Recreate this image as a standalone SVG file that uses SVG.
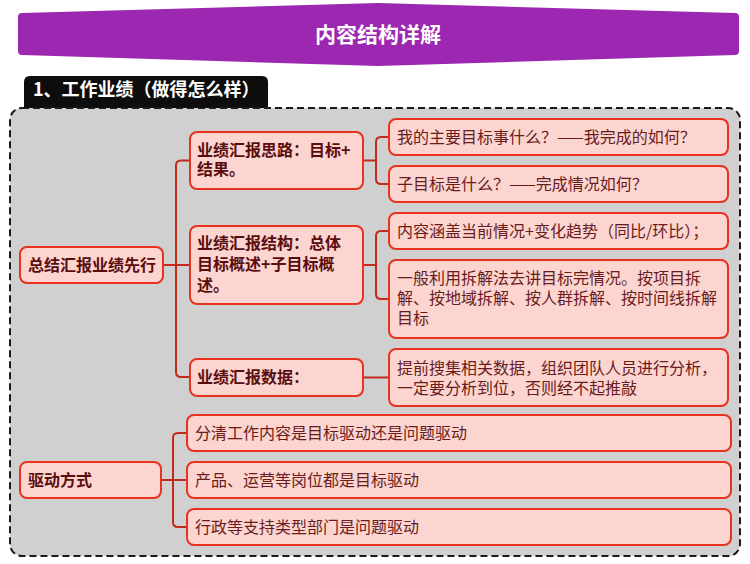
<svg xmlns="http://www.w3.org/2000/svg" width="750" height="564" viewBox="0 0 750 564">
<style>
  text { font-family: "Noto Sans CJK SC", "Noto Sans", sans-serif; }
  .node { fill: #fcd5d0; stroke: #e8311f; stroke-width: 2; }
  .b { font-size: 16px; font-weight: bold; fill: #5a0d0d; }
  .n { font-size: 16px; fill: #6a1c1c; }
  .conn path { fill: none; stroke: #c42a1c; stroke-width: 2; }
</style>
<rect width="750" height="564" fill="#ffffff"/>
<g id="title">
  <path d="M22,13 L378,3 L735,13 Q739,13 739,17 L739,51 Q739,55 735,55 L378,66 L22,55 Q18,55 18,51 L18,17 Q18,13 22,13 Z" fill="#9c27b0"/>
  <text x="378" y="42" text-anchor="middle" font-size="21" font-weight="bold" fill="#ffffff">内容结构详解</text>
</g>
<g id="tab">
  <path d="M24,110 L24,82 Q24,76 30,76 L262,76 Q268,76 268,82 L268,110 Z" fill="#0d0d0d"/>
  <text x="33" y="96" font-size="18" font-weight="bold" fill="#ffffff">1、工作业绩（做得怎么样）</text>
</g>
<g id="frame">
  <rect x="10" y="108" width="730" height="448" rx="12" fill="#d0d0d0" stroke="#1a1a1a" stroke-width="2" stroke-dasharray="7 4"/>
</g>
<g id="connectors" class="conn">
  <path d="M163,265 H176"/>
  <path d="M190,160.5 H181 Q176,160.5 176,165.5 V372 Q176,377 181,377 H190"/>
  <path d="M176,265 H190"/>
  <path d="M363,160.5 H376"/>
  <path d="M389,137 H381 Q376,137 376,142 V179 Q376,184 381,184 H389"/>
  <path d="M363,265 H376"/>
  <path d="M389,231 H381 Q376,231 376,236 V294 Q376,299 381,299 H389"/>
  <path d="M363,377.5 H389"/>
  <path d="M161,480 H187"/>
  <path d="M187,433 H178 Q173,433 173,438 V522 Q173,527 178,527 H187"/>
</g>
<g id="root1">
  <rect class="node" x="20" y="247" width="143" height="36" rx="7"/>
  <text class="b" x="28" y="271">总结汇报业绩先行</text>
</g>
<g id="n1">
  <rect class="node" x="190" y="132" width="173" height="57" rx="7"/>
  <text class="b" x="197" y="155.5">业绩汇报思路：目标+<tspan x="197" dy="19.5">结果。</tspan></text>
</g>
<g id="n2">
  <rect class="node" x="190" y="226" width="173" height="78" rx="7"/>
  <text class="b" x="197" y="248.5">业绩汇报结构：总体<tspan x="197" dy="21">目标概述+子目标概</tspan><tspan x="197" dy="21">述。</tspan></text>
</g>
<g id="n3">
  <rect class="node" x="190" y="359" width="173" height="37" rx="7"/>
  <text class="b" x="197" y="383">业绩汇报数据：</text>
</g>
<g id="l1">
  <rect class="node" x="389" y="119" width="339" height="36" rx="7"/>
  <text class="n" x="397" y="142.5">我的主要目标事什么？——我完成的如何？</text>
</g>
<g id="l2">
  <rect class="node" x="389" y="166" width="339" height="36" rx="7"/>
  <text class="n" x="397" y="189.5">子目标是什么？——完成情况如何？</text>
</g>
<g id="l3">
  <rect class="node" x="389" y="213" width="339" height="36" rx="7"/>
  <text class="n" x="397" y="236.5">内容涵盖当前情况+变化趋势（同比/环比）；</text>
</g>
<g id="l4">
  <rect class="node" x="389" y="260" width="339" height="78" rx="7"/>
  <text class="n" x="397" y="283.5">一般利用拆解法去讲目标完情况。按项目拆<tspan x="397" dy="20">解、按地域拆解、按人群拆解、按时间线拆解</tspan><tspan x="397" dy="20">目标</tspan></text>
</g>
<g id="l5">
  <rect class="node" x="389" y="349" width="339" height="57" rx="7"/>
  <text class="n" x="397" y="373.5">提前搜集相关数据，组织团队人员进行分析，<tspan x="397" dy="20">一定要分析到位，否则经不起推敲</tspan></text>
</g>
<g id="root2">
  <rect class="node" x="20" y="462" width="141" height="36" rx="7"/>
  <text class="b" x="28" y="485.5">驱动方式</text>
</g>
<g id="d1">
  <rect class="node" x="187" y="415" width="544" height="36" rx="7"/>
  <text class="n" x="195" y="438.5">分清工作内容是目标驱动还是问题驱动</text>
</g>
<g id="d2">
  <rect class="node" x="187" y="462" width="544" height="36" rx="7"/>
  <text class="n" x="195" y="485.5">产品、运营等岗位都是目标驱动</text>
</g>
<g id="d3">
  <rect class="node" x="187" y="509" width="544" height="36" rx="7"/>
  <text class="n" x="195" y="532.5">行政等支持类型部门是问题驱动</text>
</g>
</svg>
